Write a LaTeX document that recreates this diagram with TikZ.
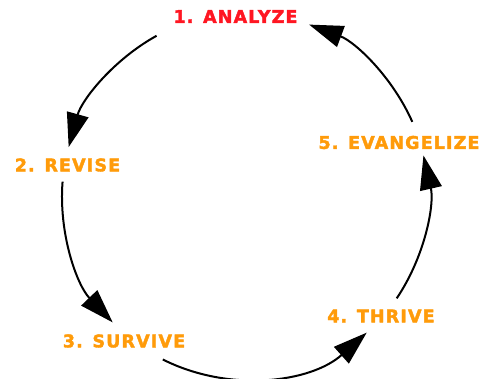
\documentclass[tikz,border=0pt]{standalone}
\usepackage{fontspec}
\usetikzlibrary{arrows.meta}
\newfontfamily\labfont{DejaVu Sans}[LetterSpace=6.5, BoldFeatures={FakeBold=2.2}]
\newcommand\labsize{\fontsize{17.5pt}{20pt}\selectfont}
\definecolor{labred}{RGB}{255,22,34}
\definecolor{laborange}{RGB}{255,155,10}
\begin{document}
\begin{tikzpicture}[x=1pt,y=1pt,
  lab/.style={font={\labfont\bfseries\labsize}, inner sep=0pt, anchor=center},
  conn/.style={line width=2pt, -{Triangle[length=34pt,width=22pt]}}]
\useasboundingbox (0,0) rectangle (482,379);
\coordinate (c) at (245,183);
% labels
\node[lab, text=labred]    (n1) at (235.5,362.5) {1. ANALYZE};
\node[lab, text=laborange] (n2) at (67.5,214)   {2. REVISE};
\node[lab, text=laborange] (n3) at (124,38)     {3. SURVIVE};
\node[lab, text=laborange] (n4) at (381,63)     {4. THRIVE};
\node[lab, text=laborange] (n5) at (399,236.5)  {5. EVANGELIZE};
% arc start points
\path (c) ++(118.9:183) coordinate (s1);
\path (c) ++(175.5:183) coordinate (s2);
\path (c) ++(243.3:183) coordinate (s3);
\path (c) ++(326:183)   coordinate (s4);
\path (c) ++(23.9:183)  coordinate (s5);
% connectors
\draw[conn] (s1) arc[start angle=118.9, end angle=164.5, radius=183];
\draw[conn] (s2) arc[start angle=175.5, end angle=223.7, radius=183];
\draw[conn] (s3) arc[start angle=243.3, end angle=311.7, radius=183];
\draw[conn] (s4) arc[start angle=326,   end angle=372.8, radius=183];
\draw[conn] (s5) arc[start angle=23.9,  end angle=69.5,  radius=183];
\end{tikzpicture}
\end{document}
